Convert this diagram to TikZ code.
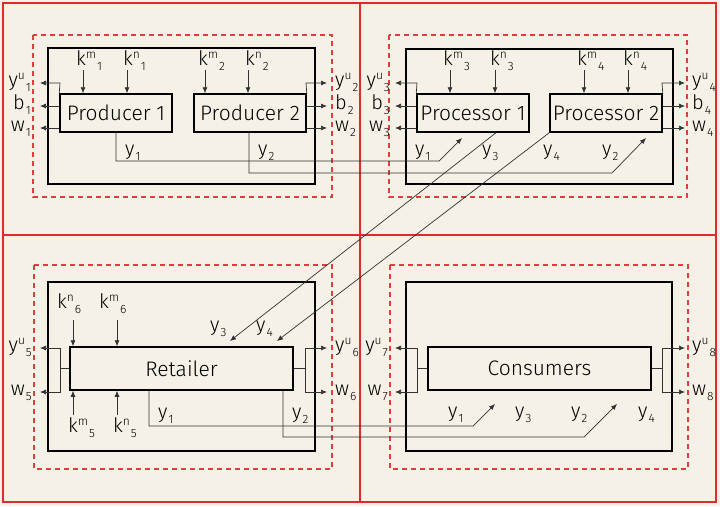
\documentclass[tikz,border=0pt]{standalone}
\usepackage{fontspec}
\setmainfont{Fira Sans Light}
\usetikzlibrary{arrows.meta}
\definecolor{bgc}{RGB}{245,241,231}
\definecolor{frred}{RGB}{222,44,44}
\definecolor{dred}{RGB}{226,60,60}
\definecolor{ln}{RGB}{50,50,50}
\newcommand\lb[3]{#1\raisebox{7pt}{\fontsize{12}{12}\selectfont #2}\raisebox{-5pt}{\fontsize{12}{12}\selectfont\kern1pt #3}}
\newcommand\ls[2]{#1\raisebox{-5pt}{\fontsize{12}{12}\selectfont\kern1pt #2}}
\tikzset{
  frame/.style={draw=frred,line width=2pt},
  dbox/.style={draw=dred,line width=1.3pt,dash pattern=on 5pt off 4pt},
  obox/.style={draw=black,line width=1.5pt},
  ubox/.style={draw=black,line width=1.5pt,inner sep=0pt,font=\fontsize{21}{23}\selectfont},
  lab/.style={inner sep=0pt,font=\fontsize{20}{22}\selectfont},
  con/.style={draw=ln,line width=0.7pt},
  arr/.style={con,-{Latex[length=6pt,width=5pt]}}
}
\begin{document}
\begin{tikzpicture}[x=1pt,y=-1pt]
\fill[bgc] (0,0) rectangle (720,506);
\useasboundingbox (0,0) rectangle (720,506);
\draw[frame] (3,3) rectangle (716,502);
\draw[frame] (360,3) -- (360,502);
\draw[frame] (3,235) -- (716,235);
% dashed and outer boxes
\draw[dbox] (33,35) rectangle (332,197);
\draw[dbox] (389,35) rectangle (687,197);
\draw[dbox] (34,265) rectangle (332,469);
\draw[dbox] (390,265) rectangle (688,469);
\draw[obox] (48,48) rectangle (315,184);
\draw[obox] (406,49) rectangle (673,184);
\draw[obox] (48,282) rectangle (315,451);
\draw[obox] (406,282) rectangle (672,451);
% unit boxes
\node[ubox,minimum width=112pt,minimum height=38pt] (p1) at (116,113) {Producer 1};
\node[ubox,minimum width=112pt,minimum height=38pt] (p2) at (250,113) {Producer 2};
\node[ubox,minimum width=112pt,minimum height=38pt] (q1) at (473,113) {Processor 1};
\node[ubox,minimum width=112pt,minimum height=38pt] (q2) at (606,113) {Processor 2};
\node[ubox,minimum width=223pt,minimum height=43pt] (r) at (181.5,368.5) {Retailer};
\node[ubox,minimum width=223pt,minimum height=43pt] (c) at (539.5,368.5) {Consumers};
% k inputs (top)
\foreach \x/\n in {83/p1,127/p1,205/p2,248/p2,450/q1,495/q1,584/q2,628/q2}{
  \draw[arr] (\x,70) -- (\n.north -| \x,0);
}
\node[lab,anchor=base west] (km1) at (76,65) {\lb{k}{m}{1}};
\node[lab,anchor=base west] (kn1) at (123,65) {\lb{k}{n}{1}};
\node[lab,anchor=base west] (km2) at (198,65) {\lb{k}{m}{2}};
\node[lab,anchor=base west] (kn2) at (245,65) {\lb{k}{n}{2}};
\node[lab,anchor=base west] (km3) at (443,65) {\lb{k}{m}{3}};
\node[lab,anchor=base west] (kn3) at (490,65) {\lb{k}{n}{3}};
\node[lab,anchor=base west] (km4) at (577,65) {\lb{k}{m}{4}};
\node[lab,anchor=base west] (kn4) at (623,65) {\lb{k}{n}{4}};
% outputs top-left / top-right units
\draw[arr] (p1.north west) -- (60,83) -- (40,83);
\draw[arr] (p1.west |- 0,106) -- (40,106);
\draw[arr] (p1.west |- 0,128) -- (40,128);
\draw[arr] (p2.north east) -- (306,83) -- (327,83);
\draw[arr] (p2.east |- 0,106) -- (327,106);
\draw[arr] (p2.east |- 0,128) -- (327,128);
\draw[arr] (q1.north west) -- (417,83) -- (395,83);
\draw[arr] (q1.west |- 0,106) -- (395,106);
\draw[arr] (q1.west |- 0,128) -- (395,128);
\draw[arr] (q2.north east) -- (662,83) -- (685,83);
\draw[arr] (q2.east |- 0,106) -- (685,106);
\draw[arr] (q2.east |- 0,128) -- (685,128);
\node[lab,anchor=base east] at (31,86) {\lb{y}{u}{1}};
\node[lab,anchor=base east] at (31,109) {\ls{b}{1}};
\node[lab,anchor=base east] at (31,131) {\ls{w}{1}};
\node[lab,anchor=base west] at (335,86) {\lb{y}{u}{2}};
\node[lab,anchor=base west] at (335,109) {\ls{b}{2}};
\node[lab,anchor=base west] at (335,131) {\ls{w}{2}};
\node[lab,anchor=base east] at (390,86) {\lb{y}{u}{3}};
\node[lab,anchor=base east] at (390,109) {\ls{b}{3}};
\node[lab,anchor=base east] at (390,131) {\ls{w}{3}};
\node[lab,anchor=base west] at (692,86) {\lb{y}{u}{4}};
\node[lab,anchor=base west] at (692,109) {\ls{b}{4}};
\node[lab,anchor=base west] at (692,131) {\ls{w}{4}};
% y flows top
\draw[arr] (p1.south -| 116,0) -- (116,161) -- (439,161) -- (462,138);
\draw[arr] (p2.south -| 249,0) -- (249,173) -- (612,173) -- (646,138);
\draw[arr] (q1.south -| 496,0) -- (230,341);
\draw[arr] (q2.south west) -- (277,341);
\node[lab,anchor=base west] at (125,155) {\ls{y}{1}};
\node[lab,anchor=base west] at (258,155) {\ls{y}{2}};
\node[lab,anchor=base west] at (415,155) {\ls{y}{1}};
\node[lab,anchor=base west] at (482,155) {\ls{y}{3}};
\node[lab,anchor=base west] at (543,155) {\ls{y}{4}};
\node[lab,anchor=base west] at (602,155) {\ls{y}{2}};
% retailer
\draw[arr] (73,320) -- (r.north -| 73,0);
\draw[arr] (117,320) -- (r.north -| 117,0);
\draw[arr] (73,415) -- (r.south -| 73,0);
\draw[arr] (117,415) -- (r.south -| 117,0);
\node[lab,anchor=base west] at (57,308) {\lb{k}{n}{6}};
\node[lab,anchor=base west] at (99,308) {\lb{k}{m}{6}};
\node[lab,anchor=base west] at (68,432) {\lb{k}{m}{5}};
\node[lab,anchor=base west] at (113,432) {\lb{k}{n}{5}};
\draw[con] (r.west) -- (60,368.5);
\draw[arr] (60,368.5) -- (60,348) -- (40,348);
\draw[arr] (60,368.5) -- (60,392) -- (40,392);
\draw[con] (r.east) -- (305,368.5);
\draw[arr] (305,368.5) -- (305,348) -- (327,348);
\draw[arr] (305,368.5) -- (305,392) -- (327,392);
\node[lab,anchor=base east] at (32,351) {\lb{y}{u}{5}};
\node[lab,anchor=base east] at (32,395) {\ls{w}{5}};
\node[lab,anchor=base west] at (335,351) {\lb{y}{u}{6}};
\node[lab,anchor=base west] at (335,395) {\ls{w}{6}};
\node[lab,anchor=base west] at (210,331) {\ls{y}{3}};
\node[lab,anchor=base west] at (256,331) {\ls{y}{4}};
\node[lab,anchor=base west] at (158,418) {\ls{y}{1}};
\node[lab,anchor=base west] at (292,418) {\ls{y}{2}};
\draw[arr] (r.south -| 149,0) -- (149,426) -- (473,426) -- (495,404);
\draw[arr] (r.south -| 283,0) -- (283,437) -- (584,437) -- (617,404);
% consumers
\draw[con] (c.west) -- (417,368.5);
\draw[arr] (417,368.5) -- (417,348) -- (395,348);
\draw[arr] (417,368.5) -- (417,392) -- (395,392);
\draw[con] (c.east) -- (662,368.5);
\draw[arr] (662,368.5) -- (662,348) -- (685,348);
\draw[arr] (662,368.5) -- (662,392) -- (685,392);
\node[lab,anchor=base east] at (388,351) {\lb{y}{u}{7}};
\node[lab,anchor=base east] at (388,395) {\ls{w}{7}};
\node[lab,anchor=base west] at (692,351) {\lb{y}{u}{8}};
\node[lab,anchor=base west] at (692,395) {\ls{w}{8}};
\node[lab,anchor=base west] at (448,417) {\ls{y}{1}};
\node[lab,anchor=base west] at (515,417) {\ls{y}{3}};
\node[lab,anchor=base west] at (571,417) {\ls{y}{2}};
\node[lab,anchor=base west] at (638,417) {\ls{y}{4}};
\end{tikzpicture}
\end{document}
